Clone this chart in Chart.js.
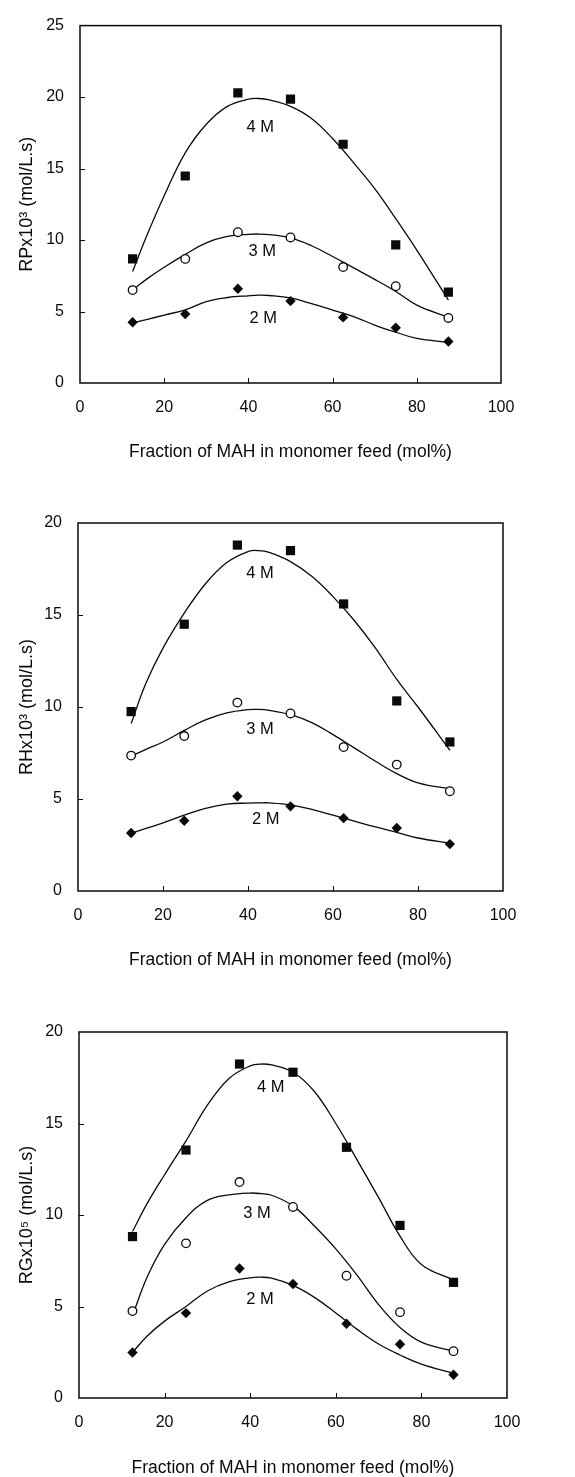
<!DOCTYPE html>
<html><head><meta charset="utf-8">
<script src="https://cdn.jsdelivr.net/npm/chart.js@4.4.0/dist/chart.umd.min.js"></script>
<style>
html,body{margin:0;padding:0;background:#fff;}
#wrap{position:relative;width:575px;height:1477px;overflow:hidden;}
.c{position:absolute;left:0;width:575px;}
canvas{display:block;}
</style></head><body>
<div id="wrap">
<div class="c" style="top:0;height:480px"><canvas id="c1" width="575" height="480"></canvas></div>
<div class="c" style="top:480px;height:505px"><canvas id="c2" width="575" height="505"></canvas></div>
<div class="c" style="top:985px;height:492px"><canvas id="c3" width="575" height="492"></canvas></div>
</div>
<script>
// ---- data ----
const feed = [12.5, 25, 37.5, 50, 62.5, 75, 87.5];
const curveX = [12.5, 16, 20, 25, 30, 35, 40, 42.5, 45, 50, 55, 60, 65, 70, 75, 80, 87.5];
const seriesNames = ['4 M', '3 M', '2 M'];
const xTicks = [0, 20, 40, 60, 80, 100];

// Chart 1: RP x10^3
const rp4 = [8.68, 14.48, 20.3, 19.86, 16.7, 9.66, 6.36];
const rp3 = [6.5, 8.68, 10.55, 10.18, 8.11, 6.77, 4.55];
const rp2 = [4.25, 4.82, 6.59, 5.73, 4.59, 3.86, 2.9];
const rp4Fit = [7.8, 10.4, 13.1, 16.1, 18.1, 19.35, 19.85, 19.9, 19.8, 19.35, 18.5, 17.1, 15.4, 13.6, 11.5, 9.3, 5.8];
const rp3Fit = [6.5, 7.3, 8.1, 9.0, 9.8, 10.25, 10.4, 10.42, 10.38, 10.15, 9.6, 8.85, 8.05, 7.25, 6.4, 5.45, 4.6];
const rp2Fit = [4.2, 4.45, 4.75, 5.12, 5.7, 5.98, 6.1, 6.14, 6.12, 5.95, 5.55, 5.1, 4.65, 4.05, 3.55, 3.12, 2.84];
const rpYTicks = [0, 5, 10, 15, 20, 25];

// Chart 2: RH x10^3
const rh4 = [9.75, 14.5, 18.8, 18.5, 15.6, 10.33, 8.1];
const rh3 = [7.36, 8.42, 10.24, 9.65, 7.82, 6.87, 5.42];
const rh2 = [3.15, 3.82, 5.15, 4.6, 3.96, 3.42, 2.55];
const rh4Fit = [9.1, 11.3, 13.2, 15.1, 16.7, 17.85, 18.45, 18.5, 18.4, 17.9, 17.1, 16.0, 14.7, 13.2, 11.5, 10.0, 7.65];
const rh3Fit = [7.33, 7.7, 8.1, 8.73, 9.3, 9.68, 9.86, 9.87, 9.82, 9.58, 9.15, 8.5, 7.78, 7.05, 6.38, 5.88, 5.55];
const rh2Fit = [3.15, 3.4, 3.7, 4.12, 4.49, 4.72, 4.78, 4.79, 4.79, 4.68, 4.43, 4.12, 3.8, 3.48, 3.18, 2.88, 2.6];
const rhYTicks = [0, 5, 10, 15, 20];

// Chart 3: RG x10^5
const rg4 = [8.82, 13.55, 18.25, 17.8, 13.7, 9.43, 6.32];
const rg3 = [4.75, 8.45, 11.8, 10.44, 6.68, 4.69, 2.56];
const rg2 = [2.49, 4.64, 7.08, 6.23, 4.06, 2.94, 1.27];
const rg4Fit = [9.1, 10.66, 12.2, 14.05, 16.0, 17.45, 18.15, 18.25, 18.2, 17.8, 16.75, 15.0, 13.0, 10.95, 8.85, 7.3, 6.45];
const rg3Fit = [4.5, 6.65, 8.4, 9.85, 10.8, 11.1, 11.2, 11.17, 11.08, 10.5, 9.4, 8.15, 6.7, 5.1, 3.85, 3.05, 2.55];
const rg2Fit = [2.49, 3.4, 4.2, 5.0, 5.85, 6.35, 6.57, 6.6, 6.55, 6.15, 5.5, 4.65, 3.75, 2.95, 2.35, 1.85, 1.35];
const rgYTicks = [0, 5, 10, 15, 20];

// series-label anchor points (data units) for 4 M, 3 M, 2 M
const rpLabelX = [42.8, 43.3, 43.5], rpLabelY = [17.9, 9.2, 4.5];
const rhLabelX = [42.8, 42.8, 44.2], rhLabelY = [17.24, 8.78, 3.91];
const rgLabelX = [44.8, 41.6, 42.3], rgLabelY = [16.95, 10.08, 5.38];

const xTitle = 'Fraction of MAH in monomer feed (mol%)';

// ---- rendering ----
const FONT = '"Liberation Sans", Arial, Helvetica, sans-serif';
const INK = '#0a0a0a';
Chart.defaults.font.family = FONT;
Chart.defaults.color = INK;

const framePlugin = {
  id: 'frame',
  afterDatasetsDraw(chart, args, opts) {
    const {ctx, chartArea: a, scales: {x, y}} = chart;
    ctx.save();
    ctx.strokeStyle = INK;
    ctx.lineWidth = 1;
    x.ticks.forEach(t => {
      const px = Math.round(x.getPixelForValue(t.value)) + 0.5;
      if (px > a.left + 2 && px < a.right - 2) {
        ctx.beginPath(); ctx.moveTo(px, a.bottom); ctx.lineTo(px, a.bottom - 5); ctx.stroke();
      }
    });
    y.ticks.forEach(t => {
      const py = Math.round(y.getPixelForValue(t.value)) + 0.5;
      if (py > a.top + 2 && py < a.bottom - 2) {
        ctx.beginPath(); ctx.moveTo(a.left, py); ctx.lineTo(a.left + 5, py); ctx.stroke();
      }
    });
    ctx.lineWidth = 1.5;
    ctx.strokeRect(a.left, a.top, a.right - a.left, a.bottom - a.top);
    ctx.font = '16.5px ' + FONT;
    ctx.fillStyle = INK;
    ctx.textAlign = 'center';
    ctx.textBaseline = 'middle';
    opts.lx.forEach((lx, i) => {
      ctx.fillText(seriesNames[i], x.getPixelForValue(lx), y.getPixelForValue(opts.ly[i]));
    });
    ctx.restore();
  }
};

function pts(xs, ys) { return xs.map((v, i) => ({x: v, y: ys[i]})); }

function makeChart(id, o) {
  const fit = (d) => ({type: 'line', data: pts(curveX, d), borderColor: INK, borderWidth: 1.3,
    pointRadius: 0, tension: 0.4, fill: false, order: 2});
  const sc = (d, style, r, bg) => ({type: 'scatter', data: pts(feed, d), pointStyle: style, pointRadius: r,
    pointHoverRadius: r, backgroundColor: bg, borderColor: INK, borderWidth: style === 'circle' ? 1.3 : 0,
    showLine: false, order: 1});
  return new Chart(document.getElementById(id), {
    data: {datasets: [
      fit(o.f4), fit(o.f3), fit(o.f2),
      sc(o.d4, 'rect', 6.5, INK),
      sc(o.d3, 'circle', 4.3, '#fff'),
      sc(o.d2, 'rectRot', 5.2, INK)
    ]},
    options: {
      responsive: false, animation: false, devicePixelRatio: 1,
      layout: {padding: {top: o.padTop, right: o.padRight, left: 0, bottom: 0}},
      plugins: {legend: {display: false}, tooltip: {enabled: false}, frame: {lx: o.lx, ly: o.ly}},
      scales: {
        x: {type: 'linear', min: 0, max: 100,
          afterBuildTicks: s => { s.ticks = xTicks.map(v => ({value: v})); },
          afterFit: s => { s.height = o.xH; },
          grid: {display: false, drawTicks: false}, border: {display: false},
          ticks: {padding: 15, font: {size: 16}, color: INK, maxRotation: 0},
          title: {display: true, text: xTitle, font: {size: 17.5, lineHeight: 1}, color: INK,
            padding: {top: 0, bottom: o.xTitlePad}}
        },
        y: {type: 'linear', min: 0, max: o.yMax,
          afterBuildTicks: s => { s.ticks = o.yTicks.map(v => ({value: v})); },
          afterFit: s => { s.width = o.yW; },
          grid: {display: false, drawTicks: false}, border: {display: false},
          ticks: {padding: 16, font: {size: 16}, color: INK},
          title: {display: true, text: o.yTitle, font: {size: 18, lineHeight: 1}, color: INK,
            padding: {top: 18, bottom: 0}}
        }
      }
    },
    plugins: [framePlugin]
  });
}

makeChart('c1', {d4: rp4, d3: rp3, d2: rp2, f4: rp4Fit, f3: rp3Fit, f2: rp2Fit,
  yMax: 25, yTicks: rpYTicks, yTitle: 'RPx10\u00B3 (mol/L.s)', lx: rpLabelX, ly: rpLabelY,
  padTop: 17, padRight: 74, yW: 80, xH: 97, xTitlePad: 19.5});
makeChart('c2', {d4: rh4, d3: rh3, d2: rh2, f4: rh4Fit, f3: rh3Fit, f2: rh2Fit,
  yMax: 20, yTicks: rhYTicks, yTitle: 'RHx10\u00B3 (mol/L.s)', lx: rhLabelX, ly: rhLabelY,
  padTop: 43, padRight: 72, yW: 78, xH: 94, xTitlePad: 16.5});
makeChart('c3', {d4: rg4, d3: rg3, d2: rg2, f4: rg4Fit, f3: rg3Fit, f2: rg2Fit,
  yMax: 20, yTicks: rgYTicks, yTitle: 'RGx10\u2075 (mol/L.s)', lx: rgLabelX, ly: rgLabelY,
  padTop: 47, padRight: 68, yW: 79, xH: 79, xTitlePad: 0.5});
</script>
</body></html>
